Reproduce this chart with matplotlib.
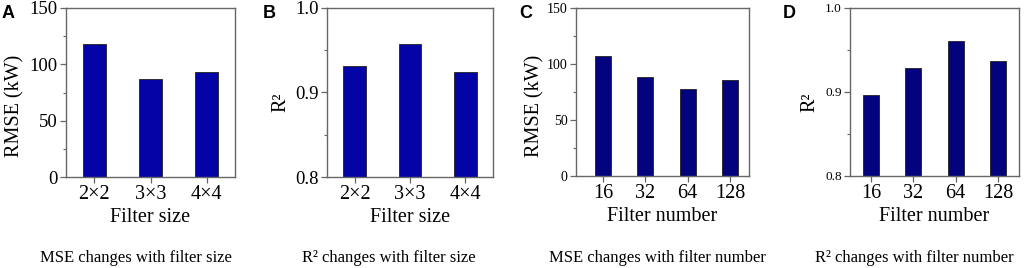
import matplotlib
matplotlib.use("Agg")
import matplotlib.pyplot as plt
from matplotlib.ticker import MultipleLocator, FormatStrFormatter

# ---- data ----
size_labels = ["2×2", "3×3", "4×4"]
size_rmse = [118, 87, 93]
size_r2 = [0.931, 0.957, 0.924]
number_labels = ["16", "32", "64", "128"]
number_rmse = [107.5, 88.5, 78, 85.5]
number_r2 = [0.896, 0.928, 0.961, 0.937]

panel_letters = ["A", "B", "C", "D"]
captions = ["MSE changes with filter size", "R² changes with filter size",
            "MSE changes with filter number", "R² changes with filter number"]

plt.rcParams['font.family'] = ['Liberation Serif', 'DejaVu Serif']

W, H = 1024, 268
fig = plt.figure(figsize=(W / 100, H / 100), dpi=100)

def axbox(l, r, t, b):
    return [l / W, (H - b) / H, (r - l) / W, (b - t) / H]

boxes = [axbox(66, 235, 8, 177), axbox(327, 493, 8, 177),
         axbox(576, 749, 8, 176), axbox(850, 1019, 8, 176)]

specs = [
    dict(labels=size_labels, vals=size_rmse, ylab="RMSE (kW)", ylim=(0, 150), major=50, minor=25,
         color="#0303A6", width=0.41, xlim=(-0.5, 2.5), ytfs=13.5, xtfs=14.5, labfs=14.5, ylx=-0.30, yly=0.42),
    dict(labels=size_labels, vals=size_r2, ylab="R²", ylim=(0.8, 1.0), major=0.1, minor=0.05,
         color="#0303A6", width=0.41, xlim=(-0.5, 2.5), ytfs=13.5, xtfs=14.5, labfs=14.5, ylx=-0.28, yly=0.44, fmt="%.1f"),
    dict(labels=number_labels, vals=number_rmse, ylab="RMSE (kW)", ylim=(0, 150), major=50, minor=25,
         color="#03037E", width=0.38, xlim=(-0.64, 3.45), ytfs=10, xtfs=14.5, labfs=14.5, ylx=-0.235, yly=0.42),
    dict(labels=number_labels, vals=number_r2, ylab="R²", ylim=(0.8, 1.0), major=0.1, minor=0.05,
         color="#03037E", width=0.38, xlim=(-0.5, 3.5), ytfs=9.5, xtfs=14.5, labfs=14.5, ylx=-0.24, yly=0.44, fmt="%.1f"),
]

spine_col = "#666666"
for i, (box, s) in enumerate(zip(boxes, specs)):
    ax = fig.add_axes(box)
    x = list(range(len(s["labels"])))
    ax.bar(x, s["vals"], width=s["width"], color=s["color"], edgecolor="#202020", linewidth=0.6, zorder=2)
    ax.set_xlim(*s["xlim"])
    ax.set_ylim(*s["ylim"])
    ax.set_xticks(x)
    ax.set_xticklabels(s["labels"], fontsize=s["xtfs"])
    ax.yaxis.set_major_locator(MultipleLocator(s["major"]))
    ax.yaxis.set_minor_locator(MultipleLocator(s["minor"]))
    if "fmt" in s:
        ax.yaxis.set_major_formatter(FormatStrFormatter(s["fmt"]))
    for lab in ax.get_yticklabels():
        lab.set_fontsize(s["ytfs"])
    for sp in ax.spines.values():
        sp.set_color(spine_col)
        sp.set_linewidth(1.0)
    ax.tick_params(axis="both", which="major", direction="out", length=4, width=0.9, color=spine_col, pad=2)
    ax.tick_params(axis="y", which="minor", direction="out", length=2, width=0.8, color=spine_col)
    ax.tick_params(axis="x", which="minor", bottom=False)
    ax.set_ylabel(s["ylab"], fontsize=s["labfs"], va="center")
    ax.yaxis.set_label_coords(s["ylx"], s["yly"])
    ax.set_xlabel("Filter size" if i < 2 else "Filter number", fontsize=s["labfs"], va="center")
    ax.xaxis.set_label_coords(0.5, -0.24)

letter_x = [2, 263, 519, 783]
for lx, letter in zip(letter_x, panel_letters):
    fig.text(lx / W, 1 - 14 / H, letter, fontsize=13, fontweight="bold",
             family=["Liberation Sans", "DejaVu Sans"], ha="left", va="center")

cap_x = [136, 389, 657, 914]
for cx, cap in zip(cap_x, captions):
    fig.text(cx / W, 1 - 258 / H, cap, fontsize=12, ha="center", va="center")

fig.savefig("out.png", dpi=100)
